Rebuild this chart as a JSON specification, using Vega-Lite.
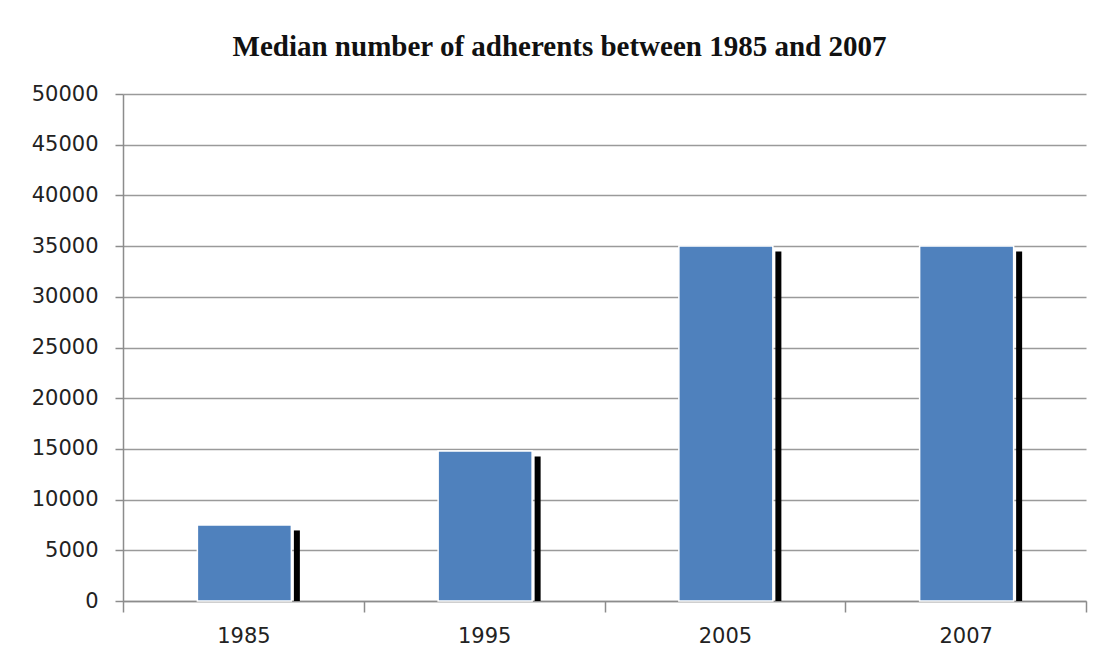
{
  "$schema": "https://vega.github.io/schema/vega-lite/v6.json",
  "width": 963,
  "height": 507,
  "autosize": {"type": "none"},
  "padding": {"left": 123, "top": 94, "right": 15, "bottom": 63},
  "background": "white",
  "title": {
    "text": "Median number of adherents between 1985 and 2007",
    "font": "Liberation Serif",
    "fontSize": 29,
    "fontWeight": "bold",
    "color": "#111111",
    "anchor": "middle",
    "dx": -45,
    "offset": 21
  },
  "data": {
    "values": [
      {"year": "1985", "adherents": 7500},
      {"year": "1995", "adherents": 14800},
      {"year": "2005", "adherents": 35000},
      {"year": "2007", "adherents": 35000}
    ]
  },
  "encoding": {
    "x": {
      "field": "year",
      "type": "nominal",
      "sort": null,
      "scale": {"paddingInner": 0, "paddingOuter": 0},
      "axis": {
        "title": null,
        "labelAngle": 0,
        "tickBand": "extent",
        "tickSize": 11,
        "tickColor": "#8c8c8c",
        "tickWidth": 1.5,
        "domainColor": "#8c8c8c",
        "domainWidth": 1.5,
        "labelFont": "DejaVu Sans",
        "labelFontSize": 21,
        "labelColor": "#222222",
        "labelPadding": 13,
        "grid": false
      }
    },
    "y": {
      "field": "adherents",
      "type": "quantitative",
      "scale": {"domain": [0, 50000], "nice": false},
      "axis": {
        "title": null,
        "values": [0, 5000, 10000, 15000, 20000, 25000, 30000, 35000, 40000, 45000, 50000],
        "format": "d",
        "tickSize": 8,
        "tickColor": "#8c8c8c",
        "tickWidth": 1.5,
        "domainColor": "#8c8c8c",
        "domainWidth": 1.5,
        "grid": true,
        "gridColor": "#9a9a9a",
        "gridWidth": 1.5,
        "labelFont": "DejaVu Sans",
        "labelFontSize": 21,
        "labelColor": "#222222",
        "labelPadding": 17
      }
    }
  },
  "layer": [
    {
      "mark": {"type": "bar", "color": "#000000", "width": 6, "xOffset": 53.5, "yOffset": 5.5, "clip": true}
    },
    {
      "mark": {"type": "bar", "color": "#4F81BD", "width": 94, "xOffset": 1, "stroke": "#ffffff", "strokeWidth": 1.5}
    }
  ],
  "config": {
    "view": {"stroke": null}
  }
}
